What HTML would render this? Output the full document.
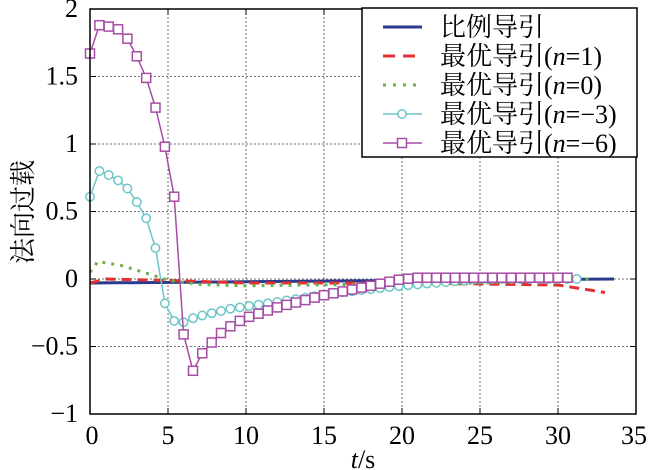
<!DOCTYPE html>
<html><head><meta charset="utf-8"><style>
body{margin:0;background:#fff;}
svg{display:block}
text{font-family:"Liberation Serif","DejaVu Serif","Noto Serif CJK SC",serif;font-size:26px;fill:#000;}
</style></head><body>
<svg width="650" height="470" viewBox="0 0 650 470" xmlns="http://www.w3.org/2000/svg">
<defs>
<marker id="mc" markerUnits="userSpaceOnUse" markerWidth="12" markerHeight="12" refX="6" refY="6" overflow="visible"><circle cx="6" cy="6" r="4.2" fill="#fff" stroke="#6cc6c8" stroke-width="1.5"/></marker>
<marker id="ms" markerUnits="userSpaceOnUse" markerWidth="12" markerHeight="12" refX="6" refY="6" overflow="visible"><rect x="1.5" y="1.5" width="9" height="9" fill="#fff" stroke="#a64ca6" stroke-width="1.5"/></marker>
</defs>
<rect width="650" height="470" fill="#fff"/>
<g stroke="#444" stroke-width="0.8" stroke-dasharray="2,2">
<line x1="168" y1="9" x2="168" y2="414"/><line x1="246" y1="9" x2="246" y2="414"/><line x1="324" y1="9" x2="324" y2="414"/><line x1="402" y1="9" x2="402" y2="414"/><line x1="480" y1="9" x2="480" y2="414"/><line x1="558" y1="9" x2="558" y2="414"/>
<line x1="90" y1="346.5" x2="636" y2="346.5"/><line x1="90" y1="279" x2="636" y2="279"/><line x1="90" y1="211.5" x2="636" y2="211.5"/><line x1="90" y1="144" x2="636" y2="144"/><line x1="90" y1="76.5" x2="636" y2="76.5"/>
</g>
<g stroke="#000" stroke-width="1">
<path d="M168 414v-6M246 414v-6M324 414v-6M402 414v-6M480 414v-6M558 414v-6M168 9v6M246 9v6M324 9v6M402 9v6M480 9v6M558 9v6"/>
<path d="M90 346.5h6M90 279h6M90 211.5h6M90 144h6M90 76.5h6M636 346.5h-6M636 279h-6M636 211.5h-6M636 144h-6M636 76.5h-6"/>
</g>
<g text-anchor="middle">
<text x="92" y="444">0</text><text x="168" y="444">5</text><text x="246" y="444">10</text><text x="324" y="444">15</text><text x="402" y="444">20</text><text x="480" y="444">25</text><text x="558" y="444">30</text><text x="634" y="444">35</text>
</g>
<g text-anchor="end">
<text x="78" y="422">−1</text><text x="78" y="354.5">−0.5</text><text x="78" y="287">0</text><text x="78" y="219.5">0.5</text><text x="78" y="152">1</text><text x="78" y="84.5">1.5</text><text x="78" y="17">2</text>
</g>
<text x="0" y="0" text-anchor="middle" transform="translate(32,212) rotate(-90)">法向过载</text>
<text x="363" y="468" text-anchor="middle"><tspan font-style="italic">t</tspan>/s</text>

<polyline fill="none" stroke="#2b3a8c" stroke-width="3" points="90,283 246,281.7 402,280.4 614,279"/>
<polyline fill="none" stroke="#e03030" stroke-width="3" stroke-dasharray="10,6" points="90,283 105.6,279 168,280.4 246,283 402,283 558,285 605,292.5"/>
<polyline fill="none" stroke="#6ab04c" stroke-width="3" stroke-dasharray="3,6" points="90,272.3 97.8,261.5 121.2,265.5 152.4,275 168,280.4 199.2,284.4 246,285.8 480,283 589,279"/>
<polyline fill="none" stroke="#6cc6c8" stroke-width="1.5" marker-start="url(#mc)" marker-mid="url(#mc)" marker-end="url(#mc)" points="90,196.7 99.4,171 108.7,175 118.1,180.4 127.4,188.5 136.8,202 146.2,218.3 155.5,248 164.9,303.3 174.2,320.9 183.6,322.2 193,318.2 202.3,315.5 211.7,313.2 221,311 230.4,308.7 239.8,307.4 249.1,306 258.5,304.7 267.8,303.3 277.2,302 286.6,300.5 295.9,299.1 305.3,297.7 314.6,296.3 324,294.9 333.4,293.4 342.7,292.2 352.1,291.2 361.4,290.1 370.8,289.1 380.2,288.1 389.5,287.1 398.9,286.1 408.2,285.2 417.6,284.4 427,283.6 436.3,282.8 445.7,282 455,281.2 464.4,280.4 473.8,279.5 483.1,279 492.5,279 501.8,279 511.2,279 520.6,279 529.9,279 539.3,279 548.6,279 558,279 567.4,279 576.7,279"/>
<polyline fill="none" stroke="#a64ca6" stroke-width="1.5" marker-start="url(#ms)" marker-mid="url(#ms)" marker-end="url(#ms)" points="90,53.5 99.4,25.2 108.7,26.6 118.1,29.3 127.4,38.7 136.8,56.3 146.2,77.9 155.5,107.6 164.9,146.7 174.2,196.7 183.6,334.4 193,370.8 202.3,353.3 211.7,342.5 221,333 230.4,326.3 239.8,320.9 249.1,316.8 258.5,313.7 267.8,310.5 277.2,307.4 286.6,304.9 295.9,302.5 305.3,300.1 314.6,297.6 324,295.2 333.4,293.3 342.7,291.4 352.1,289.5 361.4,287.6 370.8,285.8 380.2,283.7 389.5,281.7 398.9,279.7 408.2,278.7 417.6,277.7 427,277.7 436.3,277.7 445.7,277.7 455,277.7 464.4,277.7 473.8,277.7 483.1,277.7 492.5,277.7 501.8,277.7 511.2,277.7 520.6,277.7 529.9,277.7 539.3,277.7 548.6,277.7 558,277.7 567.4,277.7"/>

<rect x="90" y="9" width="546" height="405" fill="none" stroke="#000" stroke-width="1.5"/>
<rect x="362" y="8" width="275" height="149" fill="#fff" stroke="#000" stroke-width="1.5"/>
<line x1="383" y1="27" x2="422" y2="27" stroke="#2b3a8c" stroke-width="3"/>
<line x1="383" y1="56" x2="422" y2="56" stroke="#e03030" stroke-width="3" stroke-dasharray="12,8"/>
<line x1="383" y1="85" x2="422" y2="85" stroke="#6ab04c" stroke-width="3" stroke-dasharray="3,7"/>
<line x1="383" y1="114" x2="422" y2="114" stroke="#6cc6c8" stroke-width="1.5"/>
<circle cx="402" cy="114" r="4.2" fill="#fff" stroke="#6cc6c8" stroke-width="1.5"/>
<line x1="383" y1="143" x2="422" y2="143" stroke="#a64ca6" stroke-width="1.5"/>
<rect x="397.5" y="138.5" width="9" height="9" fill="#fff" stroke="#a64ca6" stroke-width="1.5"/>
<text x="440" y="36">比例导引</text>
<text x="440" y="65">最优导引(<tspan font-style="italic">n</tspan>=1)</text>
<text x="440" y="94">最优导引(<tspan font-style="italic">n</tspan>=0)</text>
<text x="440" y="123">最优导引(<tspan font-style="italic">n</tspan>=−3)</text>
<text x="440" y="152">最优导引(<tspan font-style="italic">n</tspan>=−6)</text>
</svg>
</body></html>
